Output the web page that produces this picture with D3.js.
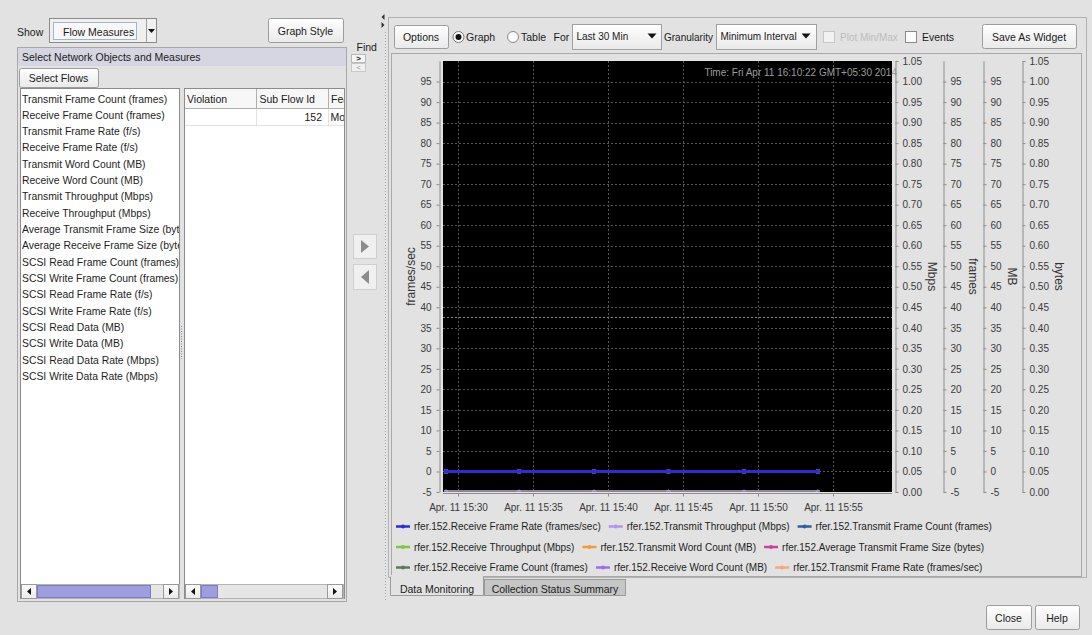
<!DOCTYPE html>
<html><head><meta charset="utf-8">
<script src="https://cdn.jsdelivr.net/npm/d3@7"></script>
<style>
html,body{margin:0;padding:0;background:#e2e2e2;overflow:hidden}
svg{display:block;font-family:"Liberation Sans",Arial,sans-serif}
</style></head><body>
<svg id="c" width="1092" height="635"></svg>
<script>
// ================= DATA =================
const flowPrefix = "rfer.152.";
const sampleTimes = ["15:29:12","15:34:04","15:39:04","15:44:02","15:49:04","15:53:59"];
const receiveFrameRate        = [0,0,0,0,0,0];
const transmitThroughput      = [0,0,0,0,0,0];
const transmitFrameCount      = [0,0,0,0,0,0];
const receiveThroughput       = [0,0,0,0,0,0];
const transmitWordCount       = [0,0,0,0,0,0];
const avgTransmitFrameSize    = [0,0,0,0,0,0];
const receiveFrameCount       = [0,0,0,0,0,0];
const receiveWordCount        = [0,0,0,0,0,0];
const transmitFrameRate       = [0,0,0,0,0,0];
const seriesNames = ["Receive Frame Rate (frames/sec)","Transmit Throughput (Mbps)","Transmit Frame Count (frames)",
  "Receive Throughput (Mbps)","Transmit Word Count (MB)","Average Transmit Frame Size (bytes)",
  "Receive Frame Count (frames)","Receive Word Count (MB)","Transmit Frame Rate (frames/sec)"];
const seriesAxes = ["framesSec","mbps","frames","mbps","mb","bytes","frames","mb","framesSec"];
const seriesColors = ["#2d2dd6","#b394ea","#2c5e9c","#7cc843","#f39a3a","#c8429c","#5b7b5b","#9b6cf0","#f6a972"];
const xTickTimes = ["15:30","15:35","15:40","15:45","15:50","15:55"];
const xDomainTimes = ["15:29:00","15:59:00"];
const framesSecTicks = [-5,0,5,10,15,20,25,30,35,40,45,50,55,60,65,70,75,80,85,90,95];
const mbpsTicks = [0,0.05,0.1,0.15,0.2,0.25,0.3,0.35,0.4,0.45,0.5,0.55,0.6,0.65,0.7,0.75,0.8,0.85,0.9,0.95,1,1.05];
const framesTicks = [-5,0,5,10,15,20,25,30,35,40,45,50,55,60,65,70,75,80,85,90,95];
const mbTicks = [-5,0,5,10,15,20,25,30,35,40,45,50,55,60,65,70,75,80,85,90,95];
const bytesTicks = [0,0.05,0.1,0.15,0.2,0.25,0.3,0.35,0.4,0.45,0.5,0.55,0.6,0.65,0.7,0.75,0.8,0.85,0.9,0.95,1,1.05];
const countDomain = [-5,100];
const ratioDomain = [0,1.05];
const markerValue = 37.7;
const timestampText = "Time: Fri Apr 11 16:10:22 GMT+05:30 2014";
const measures = ["Transmit Frame Count (frames)","Receive Frame Count (frames)","Transmit Frame Rate (f/s)",
  "Receive Frame Rate (f/s)","Transmit Word Count (MB)","Receive Word Count (MB)","Transmit Throughput (Mbps)",
  "Receive Throughput (Mbps)","Average Transmit Frame Size (bytes)","Average Receive Frame Size (bytes)",
  "SCSI Read Frame Count (frames)","SCSI Write Frame Count (frames)","SCSI Read Frame Rate (f/s)",
  "SCSI Write Frame Rate (f/s)","SCSI Read Data (MB)","SCSI Write Data (MB)","SCSI Read Data Rate (Mbps)",
  "SCSI Write Data Rate (Mbps)"];
const tableColumns = ["Violation","Sub Flow Id","Feature"];
const tableRow = ["","152","Monitor"];

// ================= SETUP =================
const svg = d3.select("#c");
const defs = svg.append("defs");
const g1 = defs.append("linearGradient").attr("id","btn").attr("x1",0).attr("y1",0).attr("x2",0).attr("y2",1);
g1.append("stop").attr("offset","0%").attr("stop-color","#ffffff");
g1.append("stop").attr("offset","100%").attr("stop-color","#e9e9e9");
defs.append("clipPath").attr("id","listClip").append("rect").attr("x",21).attr("y",89).attr("width",158).attr("height",494);
defs.append("clipPath").attr("id","tableClip").append("rect").attr("x",185).attr("y",89).attr("width",159).attr("height",494);
defs.append("clipPath").attr("id","plotClip").append("rect").attr("x",443).attr("y",61).attr("width",449).attr("height",430.5);

svg.append("rect").attr("width",1092).attr("height",635).attr("fill","#e2e2e2");
const ui = svg.append("g").style("font-size","10.5px").attr("fill","#1b1b1b");

function button(x,y,w,h,label,color){
  ui.append("rect").attr("x",x+.5).attr("y",y+.5).attr("width",w).attr("height",h).attr("rx",2)
    .attr("fill","url(#btn)").attr("stroke","#9c9c9c");
  ui.append("text").attr("x",x+w/2).attr("y",y+h/2+.5).attr("text-anchor","middle")
    .attr("dominant-baseline","central").attr("fill",color||"#1b1b1b").text(label);
}
function text(x,y,s,opt){
  const t = ui.append("text").attr("x",x).attr("y",y).attr("dominant-baseline","central").text(s);
  if(opt){ for(const k in opt) t.attr(k,opt[k]); }
  return t;
}
function tri(points,fill){ ui.append("path").attr("d","M"+points.join("L")+"Z").attr("fill",fill); }

// ================= LEFT PANEL =================
text(17,31.5,"Show");
ui.append("rect").attr("x",49.5).attr("y",18.5).attr("width",107).attr("height",24).attr("fill","#f0f0f0").attr("stroke","#8a8a8a");
ui.append("rect").attr("x",53.5).attr("y",22.5).attr("width",83).attr("height",17).attr("fill","#f8f8f8").attr("stroke","#a9b3c8");
text(63,31.5,"Flow Measures");
ui.append("line").attr("x1",146.5).attr("x2",146.5).attr("y1",19).attr("y2",42).attr("stroke","#a0a0a0");
tri([[148,29],[155,29],[151.5,33]],"#111");
button(268,18,75,24,"Graph Style");
text(356.5,46.5,"Find");
ui.append("rect").attr("x",351.5).attr("y",54.5).attr("width",14).attr("height",8).attr("fill","#f4f4f4").attr("stroke","#b8b8b8");
text(358.5,58.5,">",{"text-anchor":"middle","font-weight":"bold","font-size":"8px"});
ui.append("rect").attr("x",351.5).attr("y",63.5).attr("width",14).attr("height",8).attr("fill","#f0f0f0").attr("stroke","#c8c8c8");
text(358.5,67.5,"<",{"text-anchor":"middle","fill":"#a0a0a0","font-size":"8px"});

ui.append("rect").attr("x",17.5).attr("y",47.5).attr("width",329).attr("height",554).attr("fill","none").attr("stroke","#a8a8a8");
ui.append("rect").attr("x",18).attr("y",48).attr("width",328).attr("height",18).attr("fill","#d6d6e2");
text(22,57,"Select Network Objects and Measures");
button(19,68,79,19,"Select Flows");

// list
ui.append("rect").attr("x",20.5).attr("y",88.5).attr("width",159).attr("height",510).attr("fill","#fff").attr("stroke","#8c8c8c");
const lst = ui.append("g").attr("clip-path","url(#listClip)").style("font-size","10.4px");
lst.selectAll("text").data(measures).join("text").attr("x",22).attr("y",(d,i)=>99+i*16.33)
  .attr("dominant-baseline","central").attr("fill","#1e1e1e").text(d=>d);
// table
ui.append("rect").attr("x",184.5).attr("y",88.5).attr("width",160).attr("height",510).attr("fill","#fff").attr("stroke","#8c8c8c");
ui.append("rect").attr("x",185).attr("y",89).attr("width",159).attr("height",19).attr("fill","#f7f7f7");
ui.append("line").attr("x1",185).attr("x2",344).attr("y1",108.5).attr("y2",108.5).attr("stroke","#b0b0b0");
ui.append("line").attr("x1",185).attr("x2",344).attr("y1",125.5).attr("y2",125.5).attr("stroke","#e2e2e2");
[256.5,328.5].forEach(x=>{
  ui.append("line").attr("x1",x).attr("x2",x).attr("y1",89).attr("y2",108).attr("stroke","#b0b0b0");
  ui.append("line").attr("x1",x).attr("x2",x).attr("y1",109).attr("y2",125).attr("stroke","#e2e2e2");
});
const tb = ui.append("g").attr("clip-path","url(#tableClip)");
const colX = [187,259.5,331];
tableColumns.forEach((c,i)=>tb.append("text").attr("x",colX[i]).attr("y",98.5).attr("dominant-baseline","central").text(c));
tb.append("text").attr("x",322).attr("y",117).attr("dominant-baseline","central").attr("text-anchor","end").text(tableRow[1]);
tb.append("text").attr("x",330.5).attr("y",117).attr("dominant-baseline","central").text(tableRow[2]);
// splitter dots
ui.append("line").attr("x1",181.5).attr("x2",181.5).attr("y1",326).attr("y2",359).attr("stroke","#8a8ab8").attr("stroke-dasharray","1,1.5");

// scrollbars
function scrollbar(x0,x1,y,t0,t1){
  ui.append("rect").attr("x",x0+.5).attr("y",y+.5).attr("width",x1-x0).attr("height",14).attr("fill","#e6e6e6").attr("stroke","#b4b4b4");
  ui.append("rect").attr("x",x0+.5).attr("y",y+.5).attr("width",15).attr("height",14).attr("fill","url(#btn)").attr("stroke","#9a9a9a");
  ui.append("rect").attr("x",x1-15.5).attr("y",y+.5).attr("width",15).attr("height",14).attr("fill","url(#btn)").attr("stroke","#9a9a9a");
  tri([[x0+10,y+4],[x0+10,y+11],[x0+6,y+7.5]],"#111");
  tri([[x1-10,y+4],[x1-10,y+11],[x1-6,y+7.5]],"#111");
  ui.append("rect").attr("x",t0+.5).attr("y",y+1.5).attr("width",t1-t0).attr("height",12).attr("fill","#9e9edf").attr("stroke","#7c7cc6");
}
scrollbar(21,179,584,37,150);
scrollbar(185,343,584,201,217);

// middle arrow buttons
ui.append("rect").attr("x",353.5).attr("y",234.5).attr("width",23).attr("height",24).attr("fill","#f0f0f0").attr("stroke","#cfcfcf");
tri([[361,240],[361,253],[369,246.5]],"#8c8c8c");
ui.append("rect").attr("x",353.5).attr("y",264.5).attr("width",23).attr("height",25).attr("fill","#f0f0f0").attr("stroke","#cfcfcf");
tri([[369,270],[369,284],[361,277]],"#8c8c8c");
// splitter
ui.append("line").attr("x1",385.5).attr("x2",385.5).attr("y1",32).attr("y2",602).attr("stroke","#a6a6a6").attr("stroke-dasharray","1,2");
tri([[384.5,14],[384.5,20],[381.5,17]],"#333");
tri([[381.5,22],[381.5,28],[384.5,25]],"#333");

// ================= RIGHT PANEL =================
ui.append("rect").attr("x",388.5).attr("y",17.5).attr("width",698).attr("height",560).attr("fill","none").attr("stroke","#b2b2b2");
ui.append("rect").attr("x",391.5).attr("y",53.5).attr("width",690).attr("height",523).attr("fill","#e2e2e2").attr("stroke","#a8a8a8");
button(394,25,54,23,"Options");
ui.append("circle").attr("cx",458.5).attr("cy",37).attr("r",5.5).attr("fill","#fafafa").attr("stroke","#777");
ui.append("circle").attr("cx",458.5).attr("cy",37).attr("r",3).attr("fill","#111");
text(466,37,"Graph");
ui.append("circle").attr("cx",513).attr("cy",37).attr("r",5.5).attr("fill","#fafafa").attr("stroke","#888");
text(521,37,"Table");
text(553.5,37,"For");
function combo(x,w,label,arrowX){
  ui.append("rect").attr("x",x+.5).attr("y",24.5).attr("width",w).attr("height",25).attr("fill","url(#btn)").attr("stroke","#a0a0a0");
  text(x+4.5,36,label,{"font-size":"10px"});
  tri([[arrowX-4.5,33.5],[arrowX+4.5,33.5],[arrowX,38.5]],"#111");
}
combo(572,89,"Last 30 Min",652);
text(664,37,"Granularity",{"font-size":"10px"});
combo(716,100,"Minimum Interval",806);
ui.append("rect").attr("x",823.5).attr("y",31.5).attr("width",11).attr("height",11).attr("fill","#f2f2f2").attr("stroke","#c6c6c6");
text(840,37,"Plot Min/Max",{"fill":"#bdbdbd","font-size":"10px"});
ui.append("rect").attr("x",905.5).attr("y",31.5).attr("width",11).attr("height",11).attr("fill","#fbfbfb").attr("stroke","#8a8a8a");
text(922,37,"Events");
button(982,24,94,24,"Save As Widget");

// tabs
ui.append("path").attr("d","M390.5,576.5V595.5H483.5V576.5").attr("fill","#e2e2e2").attr("stroke","#9a9a9a");
ui.append("rect").attr("x",391).attr("y",575).attr("width",92).attr("height",3).attr("fill","#e2e2e2");
text(437,588.5,"Data Monitoring",{"text-anchor":"middle"});
ui.append("rect").attr("x",484.5).attr("y",579.5).attr("width",141).attr("height",16).attr("fill","#c6c6c6").attr("stroke","#9a9a9a");
text(555,588.5,"Collection Status Summary",{"text-anchor":"middle"});
button(986,605,45,24,"Close");
button(1035,605,44,24,"Help");

// ================= CHART =================
const parseT = d3.timeParse("%H:%M:%S");
const parseHM = d3.timeParse("%H:%M");
const x = d3.scaleTime().domain(xDomainTimes.map(parseT)).range([443,893]);
const yLeft = d3.scaleLinear().domain(countDomain).range([492,61]);
const scales = {
  framesSec: yLeft,
  mbps: d3.scaleLinear().domain(ratioDomain).range([492,61]),
  frames: d3.scaleLinear().domain(countDomain).range([492,61]),
  mb: d3.scaleLinear().domain(countDomain).range([492,61]),
  bytes: d3.scaleLinear().domain(ratioDomain).range([492,61])
};
const ch = svg.append("g");
ch.append("rect").attr("x",443).attr("y",61).attr("width",449).attr("height",431).attr("fill","#000");
const grid = ch.append("g").attr("stroke","#555").attr("stroke-dasharray","2,2").attr("stroke-width",1);
grid.selectAll(".h").data(framesSecTicks.filter(v=>v>-5)).join("line")
  .attr("x1",443).attr("x2",892).attr("y1",d=>Math.round(yLeft(d))+.5).attr("y2",d=>Math.round(yLeft(d))+.5);
grid.selectAll(".v").data(xTickTimes.map(parseHM)).join("line")
  .attr("x1",d=>Math.round(x(d))+.5).attr("x2",d=>Math.round(x(d))+.5).attr("y1",61).attr("y2",492);
ch.append("line").attr("x1",443).attr("x2",892).attr("y1",Math.round(yLeft(markerValue))+.5).attr("y2",Math.round(yLeft(markerValue))+.5)
  .attr("stroke","#8a8a8a").attr("stroke-dasharray","2,2");
ch.append("text").attr("x",897).attr("y",72).attr("text-anchor","end").attr("dominant-baseline","central")
  .style("font-size","10px").attr("fill","#9c9c9c").text(timestampText);

// series
const seriesData = [receiveFrameRate,transmitThroughput,transmitFrameCount,receiveThroughput,transmitWordCount,
  avgTransmitFrameSize,receiveFrameCount,receiveWordCount,transmitFrameRate];
const times = sampleTimes.map(parseT);
const series = seriesNames.map((n,i)=>({name:n,axis:seriesAxes[i],color:seriesColors[i],values:seriesData[i]}));
const plot = ch.append("g").attr("clip-path","url(#plotClip)");
series.slice().reverse().forEach(s=>{
  const sc = scales[s.axis];
  const line = d3.line().x((d,i)=>x(times[i])).y(d=>sc(d));
  plot.append("path").datum(s.values).attr("d",line).attr("fill","none").attr("stroke",s.color).attr("stroke-width",3);
  plot.selectAll(null).data(s.values).join("circle").attr("cx",(d,i)=>x(times[i])).attr("cy",d=>sc(d)).attr("r",2.3).attr("fill",s.color);
});

// axes
function styleAxis(g){
  g.selectAll(".domain").attr("stroke","#8c8c8c");
  g.selectAll(".tick line").attr("stroke","#8c8c8c");
  g.selectAll(".tick text").attr("fill","#3a3a3a").style("font-size","10px").style("font-family","'Liberation Sans',Arial,sans-serif");
}
const fmt2 = d=>d.toFixed(2);
const fmtInt = d=>String(d);
ch.append("g").attr("transform","translate(439.5,0)")
  .call(d3.axisLeft(yLeft).tickValues(framesSecTicks).tickFormat(fmtInt).tickSize(3).tickSizeOuter(0).tickPadding(5)).call(styleAxis);
ch.append("g").attr("transform","translate(895.5,0)")
  .call(d3.axisRight(scales.mbps).tickValues(mbpsTicks).tickFormat(fmt2).tickSize(3).tickSizeOuter(0).tickPadding(4)).call(styleAxis);
ch.append("g").attr("transform","translate(943.5,0)")
  .call(d3.axisRight(scales.frames).tickValues(framesTicks).tickFormat(fmtInt).tickSize(3).tickSizeOuter(0).tickPadding(4)).call(styleAxis);
ch.append("g").attr("transform","translate(983.5,0)")
  .call(d3.axisRight(scales.mb).tickValues(mbTicks).tickFormat(fmtInt).tickSize(3).tickSizeOuter(0).tickPadding(4)).call(styleAxis);
ch.append("g").attr("transform","translate(1022.5,0)")
  .call(d3.axisRight(scales.bytes).tickValues(bytesTicks).tickFormat(fmt2).tickSize(3).tickSizeOuter(0).tickPadding(4)).call(styleAxis);
const tf = d3.timeFormat("%H:%M");
ch.append("g").attr("transform","translate(0,493.5)")
  .call(d3.axisBottom(x).tickValues(xTickTimes.map(parseHM)).tickFormat(d=>"Apr. 11 "+tf(d)).tickSize(3).tickSizeOuter(0).tickPadding(7))
  .call(styleAxis).call(g=>g.select(".domain").attr("d","M443,0H892"));

// axis titles
const titles = [["frames/sec",411,-90],["Mbps",932,90],["frames",973,90],["MB",1012,90],["bytes",1059,90]];
titles.forEach(t=>{
  ch.append("text").attr("transform",`translate(${t[1]},276.5) rotate(${t[2]})`).attr("text-anchor","middle")
    .attr("dominant-baseline","central").style("font-size","12px").attr("fill","#333").text(t[0]);
});

// legend
const legendRowsY = [526.5,547,567.5];
const lg = ch.append("g").style("font-size","10px");
series.forEach((s,i)=>{ s.row = Math.floor(i/3); });
[0,1,2].forEach(r=>{
  let cx = 396;
  series.filter(s=>s.row===r).forEach(s=>{
    const y = legendRowsY[r];
    lg.append("line").attr("x1",cx).attr("x2",cx+14).attr("y1",y).attr("y2",y).attr("stroke",s.color).attr("stroke-width",2.5);
    lg.append("circle").attr("cx",cx+7).attr("cy",y).attr("r",2).attr("fill",s.color);
    const t = lg.append("text").attr("x",cx+18).attr("y",y).attr("dominant-baseline","central").attr("fill","#1e1e1e").text(flowPrefix+s.name);
    cx += 18 + t.node().getComputedTextLength() + 8;
  });
});
</script>
</body></html>
